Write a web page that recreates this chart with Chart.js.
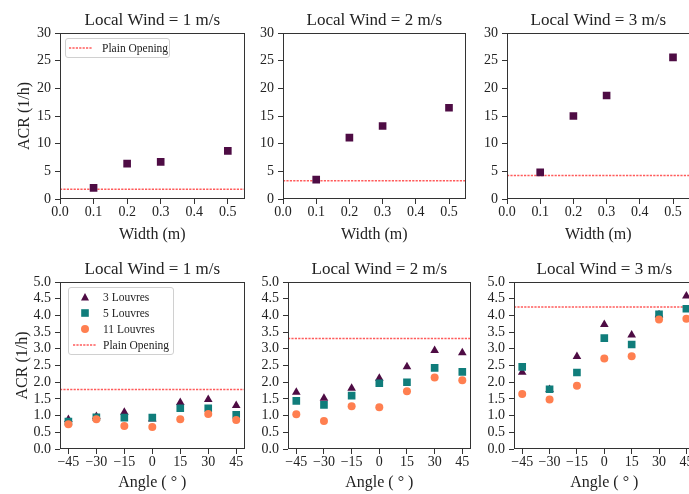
<!DOCTYPE html>
<html>
<head>
<meta charset="utf-8">
<script src="https://cdn.jsdelivr.net/npm/chart.js@4/dist/chart.umd.min.js"></script>
<style>
  html, body { margin:0; padding:0; background:#fff; }
  body { width:689px; height:494px; overflow:hidden; position:relative; font-family:'Liberation Serif', serif; }
  .panel { position:absolute; }
  .panel canvas { display:block; }
  .legend { position:absolute; background:rgba(255,255,255,0.85); border:1px solid #d0d0d0; border-radius:3px; box-sizing:border-box; }
  .legend .item { position:absolute; left:0; height:16px; width:100%; }
  .legend .txt { position:absolute; font-family:'Liberation Serif', serif; font-size:11.5px; color:#222; line-height:16px; white-space:nowrap; }
  .legend .mk { position:absolute; }
</style>
</head>
<body>
<script>
// ---------- data ----------
const windTitles = ['Local Wind = 1 m/s', 'Local Wind = 2 m/s', 'Local Wind = 3 m/s'];

const widths = [0.1, 0.2, 0.3, 0.5];
const widthTicks = [0, 0.1, 0.2, 0.3, 0.4, 0.5];
const widthTickLabels = ['0.0', '0.1', '0.2', '0.3', '0.4', '0.5'];
const widthLimits = [0, 0.55];
const acrWidthTicks = [0, 5, 10, 15, 20, 25, 30];
const acrWidthLimits = [0, 30];

const acrWidth1 = [2.0, 6.4, 6.7, 8.7];
const acrWidth2 = [3.5, 11.1, 13.2, 16.5];
const acrWidth3 = [4.8, 15.0, 18.7, 25.6];

const plainOpening = [1.78, 3.31, 4.25];

const angles = [-45, -30, -15, 0, 15, 30, 45];
const angleTickLabels = ['\u221245', '\u221230', '\u221215', '0', '15', '30', '45'];
const angleLimits = [-49.5, 49.5];
const acrAngleTicks = [0, 0.5, 1, 1.5, 2, 2.5, 3, 3.5, 4, 4.5, 5];
const acrAngleLimits = [0, 5];

const louvres3_w1 = [0.88, 0.97, 1.10, 0.90, 1.39, 1.48, 1.30];
const louvres5_w1 = [0.82, 0.95, 0.94, 0.94, 1.22, 1.22, 1.02];
const louvres11_w1 = [0.74, 0.89, 0.69, 0.66, 0.89, 1.05, 0.87];

const louvres3_w2 = [1.70, 1.52, 1.82, 2.12, 2.46, 2.95, 2.88];
const louvres5_w2 = [1.44, 1.32, 1.60, 1.97, 2.00, 2.43, 2.31];
const louvres11_w2 = [1.04, 0.84, 1.28, 1.25, 1.73, 2.14, 2.06];

const louvres3_w3 = [2.30, 1.78, 2.77, 3.73, 3.41, 4.02, 4.58];
const louvres5_w3 = [2.46, 1.79, 2.29, 3.32, 3.13, 4.03, 4.20];
const louvres11_w3 = [1.65, 1.48, 1.89, 2.71, 2.78, 3.88, 3.90];

const seriesLabels = ['3 Louvres', '5 Louvres', '11 Louvres'];
const plainLabel = 'Plain Opening';
const widthSeriesLabel = 'Louvre width';
const xTitleWidth = 'Width (m)';
const xTitleAngle = 'Angle ( \u00B0 )';
const yTitle = 'ACR (1/h)';

// ---------- styles ----------
const PURPLE = '#4e0c44';
const TEAL = '#107d7b';
const CORAL = '#ff7f50';
const RED = 'rgba(255,50,50,0.8)';
const INK = '#222';
const FONT = "'Liberation Serif', 'Times New Roman', serif";

const seriesStyles = [
  { color: PURPLE, pointStyle: 'triangle', radius: 5.0, order: 3 },
  { color: TEAL, pointStyle: 'rect', radius: 5.4, order: 2 },
  { color: CORAL, pointStyle: 'circle', radius: 4.0, order: 1 }
];

const framePlugin = {
  id: 'frame',
  afterDatasetsDraw(chart) {
    const a = chart.chartArea, ctx = chart.ctx;
    ctx.save();
    ctx.strokeStyle = '#333';
    ctx.lineWidth = 1;
    ctx.strokeRect(Math.round(a.left) + 0.5, Math.round(a.top) + 0.5,
                   Math.round(a.right - a.left) - 1, Math.round(a.bottom - a.top) - 1);
    ctx.restore();
  }
};

function pts(xs, ys) { return xs.map((x, i) => ({ x: x, y: ys[i] })); }

function plainDataset(value, lims) {
  return {
    label: plainLabel,
    data: [{ x: lims[0], y: value }, { x: lims[1], y: value }],
    showLine: true, borderColor: RED, borderWidth: 1.5, borderDash: [2.2, 1.2],
    pointRadius: 0, fill: false, order: 10
  };
}

function makePanel(p) {
  const div = document.createElement('div');
  div.className = 'panel';
  const W = p.yW + p.plotW + 4;
  const H = 23 + p.plotH + p.xH;
  div.style.left = p.left + 'px';
  div.style.top = p.top + 'px';
  div.style.width = W + 'px';
  div.style.height = H + 'px';
  const cv = document.createElement('canvas');
  cv.width = W; cv.height = H;
  cv.style.width = W + 'px'; cv.style.height = H + 'px';
  div.appendChild(cv);
  document.body.appendChild(div);

  new Chart(cv, {
    type: 'scatter',
    data: { datasets: p.datasets },
    options: {
      responsive: false,
      animation: false,
      events: [],
      devicePixelRatio: 1,
      layout: { padding: { left: 0, right: 0, top: 0, bottom: 0 } },
      plugins: {
        legend: { display: false },
        tooltip: { enabled: false },
        title: {
          display: true, text: p.title, fullSize: false, color: INK,
          font: { family: FONT, size: 17, weight: 'normal', lineHeight: 1.2 },
          padding: { top: 0, bottom: 2.6 }
        }
      },
      scales: {
        x: {
          type: 'linear', min: p.xLim[0], max: p.xLim[1],
          afterBuildTicks: s => { s.ticks = p.xTicks.map(v => ({ value: v })); },
          afterFit: s => { s.height = p.xH; },
          ticks: {
            autoSkip: false, maxRotation: 0, padding: 0, color: INK,
            font: { family: FONT, size: 14 },
            callback: (v, i) => p.xTickLabels[i]
          },
          grid: { display: true, drawOnChartArea: false, drawTicks: true, tickLength: 5, color: '#333' },
          border: { display: false },
          title: {
            display: true, text: p.xTitle, color: INK,
            font: { family: FONT, size: 16, lineHeight: 1.2 },
            padding: { top: 0, bottom: 0 }
          }
        },
        y: {
          type: 'linear', min: p.yLim[0], max: p.yLim[1],
          afterBuildTicks: s => { s.ticks = p.yTicks.map(v => ({ value: v })); },
          afterFit: s => { s.width = p.yW; },
          ticks: {
            autoSkip: false, padding: 4, color: INK,
            font: { family: FONT, size: 14 },
            callback: v => p.yFmt(v)
          },
          grid: { display: true, drawOnChartArea: false, drawTicks: true, tickLength: 5, color: '#333' },
          border: { display: false },
          title: {
            display: !!p.yTitle, text: p.yTitle || '', color: INK,
            font: { family: FONT, size: 16, lineHeight: 1.2 },
            padding: { top: p.yTitlePad || 0, bottom: 0 }
          }
        }
      }
    },
    plugins: [framePlugin]
  });
}

// ---------- top row: ACR vs width ----------
const widthSets = [acrWidth1, acrWidth2, acrWidth3];
const topPanels = [
  { left: 0, yW: 60, plotW: 186, yTitle: yTitle, yTitlePad: 15 },
  { left: 238, yW: 45, plotW: 184 },
  { left: 462, yW: 45, plotW: 184 }
];
topPanels.forEach((tp, k) => {
  makePanel(Object.assign({
    top: 10, plotH: 166, xH: 45,
    title: windTitles[k],
    xLim: widthLimits, xTicks: widthTicks, xTickLabels: widthTickLabels, xTitle: xTitleWidth,
    yLim: acrWidthLimits, yTicks: acrWidthTicks, yFmt: v => String(v),
    datasets: [
      {
        label: widthSeriesLabel, data: pts(widths, widthSets[k]),
        pointStyle: 'rect', pointRadius: 5.4, backgroundColor: PURPLE, borderColor: PURPLE,
        borderWidth: 0, order: 1
      },
      plainDataset(plainOpening[k], widthLimits)
    ]
  }, tp));
});

// ---------- bottom row: ACR vs angle ----------
const angleSets = [
  [louvres3_w1, louvres5_w1, louvres11_w1],
  [louvres3_w2, louvres5_w2, louvres11_w2],
  [louvres3_w3, louvres5_w3, louvres11_w3]
];
const bottomPanels = [
  { left: 0, yW: 60, plotW: 186, yTitle: yTitle, yTitlePad: 13 },
  { left: 243, yW: 45, plotW: 184 },
  { left: 469, yW: 45, plotW: 182 }
];
bottomPanels.forEach((bp, k) => {
  const ds = angleSets[k].map((ys, j) => ({
    label: seriesLabels[j], data: pts(angles, ys),
    pointStyle: seriesStyles[j].pointStyle, pointRadius: seriesStyles[j].radius,
    backgroundColor: seriesStyles[j].color, borderColor: seriesStyles[j].color,
    borderWidth: 0, order: seriesStyles[j].order
  }));
  ds.push(plainDataset(plainOpening[k], angleLimits));
  makePanel(Object.assign({
    top: 259, plotH: 167, xH: 43,
    title: windTitles[k],
    xLim: angleLimits, xTicks: angles, xTickLabels: angleTickLabels, xTitle: xTitleAngle,
    yLim: acrAngleLimits, yTicks: acrAngleTicks, yFmt: v => v.toFixed(1),
    datasets: ds
  }, bp));
});

// ---------- legends (HTML, inside the axes) ----------
function marker(kind, color) {
  const NS = 'http://www.w3.org/2000/svg';
  const svg = document.createElementNS(NS, 'svg');
  svg.setAttribute('width', '24'); svg.setAttribute('height', '10');
  let el;
  if (kind === 'line') {
    el = document.createElementNS(NS, 'line');
    el.setAttribute('x1', '0'); el.setAttribute('x2', '23');
    el.setAttribute('y1', '5'); el.setAttribute('y2', '5');
    el.setAttribute('stroke', color); el.setAttribute('stroke-width', '1.5');
    el.setAttribute('stroke-dasharray', '2.2,1.2');
  } else if (kind === 'triangle') {
    el = document.createElementNS(NS, 'polygon');
    el.setAttribute('points', '12,1 16,8.5 8,8.5');
    el.setAttribute('fill', color);
  } else if (kind === 'rect') {
    el = document.createElementNS(NS, 'rect');
    el.setAttribute('x', '8.2'); el.setAttribute('y', '1.2');
    el.setAttribute('width', '7.6'); el.setAttribute('height', '7.6');
    el.setAttribute('fill', color);
  } else {
    el = document.createElementNS(NS, 'circle');
    el.setAttribute('cx', '12'); el.setAttribute('cy', '5');
    el.setAttribute('r', '4'); el.setAttribute('fill', color);
  }
  svg.appendChild(el);
  return svg;
}

function makeLegend(box, entries) {
  const lg = document.createElement('div');
  lg.className = 'legend';
  lg.style.left = box.left + 'px'; lg.style.top = box.top + 'px';
  lg.style.width = box.width + 'px'; lg.style.height = box.height + 'px';
  entries.forEach((e, i) => {
    const it = document.createElement('div');
    it.className = 'item';
    it.style.top = (box.first + i * 16 - 8) + 'px';
    const mk = marker(e.kind, e.color);
    mk.setAttribute('class', 'mk');
    mk.style.left = box.mkLeft + 'px'; mk.style.top = '3px';
    const tx = document.createElement('div');
    tx.className = 'txt';
    tx.style.left = box.txtLeft + 'px'; tx.style.top = '0px';
    tx.textContent = e.label;
    it.appendChild(mk); it.appendChild(tx);
    lg.appendChild(it);
  });
  document.body.appendChild(lg);
}

makeLegend({ left: 65, top: 38, width: 105, height: 20, first: 9, mkLeft: 3, txtLeft: 36 },
  [{ kind: 'line', color: RED, label: plainLabel }]);

makeLegend({ left: 68, top: 287, width: 106, height: 68, first: 9, mkLeft: 4, txtLeft: 34 },
  seriesLabels.map((l, j) => ({ kind: seriesStyles[j].pointStyle, color: seriesStyles[j].color, label: l }))
    .concat([{ kind: 'line', color: RED, label: plainLabel }]));
</script>
</body>
</html>
